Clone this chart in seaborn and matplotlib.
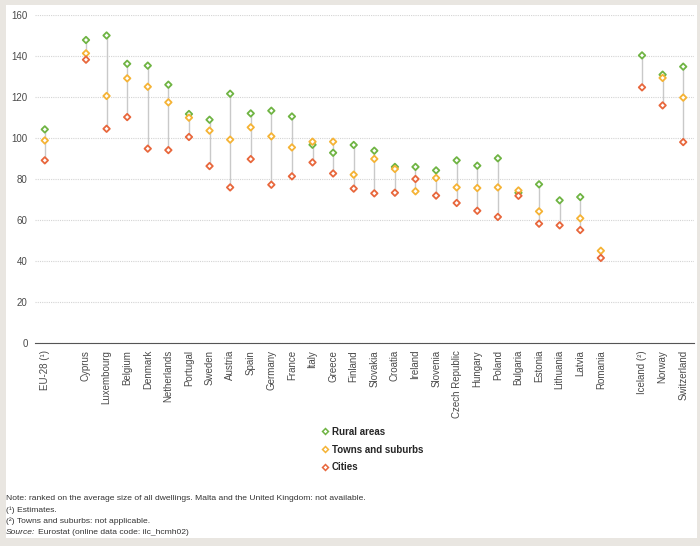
import numpy as np
import pandas as pd
import seaborn as sns
import matplotlib.pyplot as plt
from matplotlib.patches import Rectangle
from matplotlib.lines import Line2D

# average dwelling size (m2) by degree of urbanisation
countries = ['EU-28 (¹)', 'Cyprus', 'Luxembourg', 'Belgium', 'Denmark', 'Netherlands',
             'Portugal', 'Sweden', 'Austria', 'Spain', 'Germany', 'France', 'Italy',
             'Greece', 'Finland', 'Slovakia', 'Croatia', 'Ireland', 'Slovenia',
             'Czech Republic', 'Hungary', 'Poland', 'Bulgaria', 'Estonia', 'Lithuania',
             'Latvia', 'Romania', 'Iceland (²)', 'Norway', 'Switzerland']
rural = [104.2, 147.8, 150.0, 136.2, 135.3, 126.0, 111.7, 108.9, 121.6, 112.0, 113.3,
         110.5, 96.7, 92.8, 96.6, 93.8, 85.9, 85.9, 84.2, 89.1, 86.5, 90.1, 73.3, 77.4,
         69.6, 71.2, np.nan, 140.3, 130.9, 134.8]
towns = [98.8, 141.3, 120.5, 129.1, 125.0, 117.4, 109.9, 103.6, 99.2, 105.2, 100.8,
         95.4, 98.2, 98.2, 82.1, 89.8, 84.9, 74.0, 80.5, 75.9, 75.6, 75.9, 74.4, 64.2,
         np.nan, 60.8, 45.0, np.nan, 129.3, 119.7]
cities = [89.1, 138.2, 104.5, 110.2, 94.8, 94.1, 100.5, 86.3, 75.9, 89.7, 77.2, 81.3,
          88.1, 82.7, 75.3, 73.0, 73.3, 80.0, 71.9, 68.3, 64.5, 61.5, 71.8, 58.2, 57.4,
          55.1, 41.5, 124.7, 115.9, 98.0]
series = ['Rural areas', 'Towns and suburbs', 'Cities']
colors = ['#6fb443', '#f5b335', '#e8673c']

# gap after EU-28 and before the EFTA countries
xpos = [i + (i >= 1) + (i >= 27) for i in range(len(countries))]

df = pd.DataFrame({'country': countries, 'x': xpos, series[0]: rural,
                   series[1]: towns, series[2]: cities})
long = df.melt(id_vars=['country', 'x'], value_vars=series,
               var_name='area', value_name='size').dropna()

sns.set_style('white')
plt.rcParams['font.family'] = ['Liberation Sans', 'DejaVu Sans']

fig = plt.figure(figsize=(7, 5.46), dpi=100)
fig.patch.set_facecolor('#e9e6e1')
fig.patches.append(Rectangle((6 / 700, 8 / 546), 691 / 700, 533 / 546,
                             transform=fig.transFigure, facecolor='white',
                             edgecolor='none', zorder=-5))
ax = fig.add_axes([34.5 / 700, 203 / 546, 659 / 700, 328 / 546])
ax.set_facecolor('none')

lo = df[series].min(axis=1)
hi = df[series].max(axis=1)
ax.vlines(df['x'], lo, hi, color='#c9c9c9', lw=1, zorder=1)

sns.scatterplot(data=long, x='x', y='size', hue='area', hue_order=series,
                palette=colors, marker='D', s=11, ax=ax, legend=False, zorder=3)
coll = ax.collections[-1]
fc = coll.get_facecolors()
coll.set_edgecolors(fc)
coll.set_facecolors('white')
coll.set_linewidths(1.3)

ax.set_xlim(-0.5, 31.5)
ax.set_ylim(0, 160)
ax.set_yticks(range(0, 161, 20))
ax.yaxis.grid(True, color='#d4d4d4', lw=0.8, ls=(0, (1, 1)))
ax.set_axisbelow(True)
for s in ['top', 'right', 'left']:
    ax.spines[s].set_visible(False)
ax.spines['bottom'].set_color('#555555')
ax.spines['bottom'].set_linewidth(0.8)

ax.set_xticks(xpos)
ax.set_xticklabels(countries, rotation=90, fontsize=7, color='#4a4a4a')
ax.set_xticks(np.arange(-0.5, 32, 1), minor=True)
ax.tick_params(axis='x', which='major', length=0, pad=5)
ax.tick_params(axis='x', which='minor', length=3, width=0.8, color='#555555', direction='out')
ax.tick_params(axis='y', length=0, labelsize=7, labelcolor='#4a4a4a', pad=5)
ax.set_xlabel('')
ax.set_ylabel('')

handles = [Line2D([], [], marker='D', ls='none', markersize=3, markerfacecolor='white',
                  markeredgecolor=c, markeredgewidth=1.1) for c in colors]
fig.legend(handles, series, loc='upper left', bbox_to_anchor=(316 / 700, 1 - 423 / 546),
           frameon=False, prop={'size': 7, 'weight': 'bold'}, labelspacing=0.8,
           handletextpad=0.2, handlelength=1.0, borderaxespad=0)

notes = ['Note: ranked on the average size of all dwellings. Malta and the United Kingdom: not available.',
         '(¹) Estimates.',
         '(²) Towns and suburbs: not applicable.']
for i, t in enumerate(notes):
    fig.text(6 / 700, 1 - (499 + 11 * i) / 546, t, fontsize=6.1, color='#333333', va='center')
fig.text(6 / 700, 1 - 532 / 546, 'Source:', fontsize=6.1, color='#333333', va='center', style='italic')
fig.text(38 / 700, 1 - 532 / 546, 'Eurostat (online data code: ilc_hcmh02)', fontsize=6.1,
         color='#333333', va='center')

fig.savefig('out.png', dpi=100, facecolor=fig.get_facecolor())
